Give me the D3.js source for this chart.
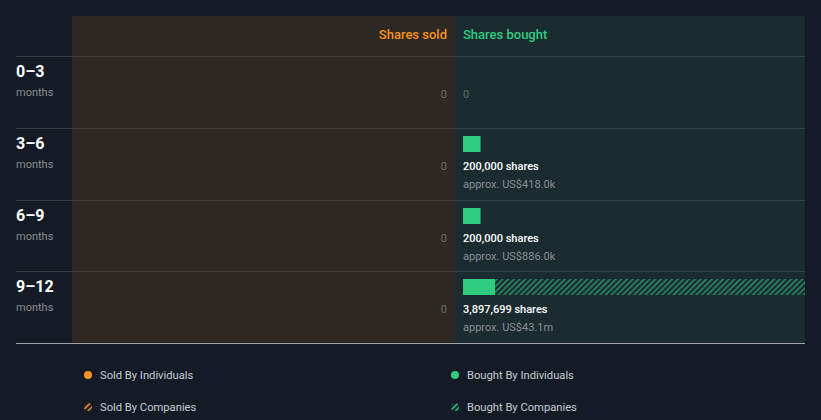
<!DOCTYPE html>
<html><head><meta charset="utf-8">
<script src="https://cdn.jsdelivr.net/npm/d3@7"></script>
<style>
html,body{margin:0;padding:0;background:#151b26;}
svg{display:block;font-family:Roboto, "Open Sans", sans-serif;}
</style></head>
<body>
<svg id="c" width="821" height="420"></svg>
<script>
const periods = ["0\u20133", "3\u20136", "6\u20139", "9\u201312"];
const periodUnit = ["months", "months", "months", "months"];
const soldByIndividuals = [0, 0, 0, 0];
const soldByCompanies = [0, 0, 0, 0];
const boughtByIndividuals = [0, 200000, 200000, 365000];
const boughtByCompanies = [0, 0, 0, 3532699];
const boughtValueUSD = [0, 418000, 886000, 43100000];
const legendLabels = ["Sold By Individuals", "Bought By Individuals", "Sold By Companies", "Bought By Companies"];

const svg = d3.select("#c");
const orange = "#f7931e", green = "#2ecc7f";
const bg = "#151b26", soldBg = "#2d2823", boughtBg = "#1a2c2f";

const panelTop = 16, headerBottom = 56, rowH = 71.75;
const soldX0 = 72, mid = 455, boughtX1 = 805, labelX = 16;

const defs = svg.append("defs");
function hatch(id, color, bgc) {
  const p = defs.append("pattern").attr("id", id).attr("patternUnits", "userSpaceOnUse")
    .attr("width", 4).attr("height", 4).attr("patternTransform", "rotate(45)");
  p.append("rect").attr("width", 4).attr("height", 4).attr("fill", bgc);
  p.append("rect").attr("x", 0).attr("width", 1.6).attr("height", 4).attr("fill", color);
}
hatch("hatchG", "#2a8a62", boughtBg);
hatch("hatchO", orange, bg);
hatch("hatchGL", green, bg);

const y = d3.scaleBand().domain(periods).range([headerBottom, headerBottom + rowH * periods.length]).padding(0);
const totals = periods.map((_, i) => boughtByIndividuals[i] + boughtByCompanies[i]);
const soldTotals = periods.map((_, i) => soldByIndividuals[i] + soldByCompanies[i]);
const maxV = d3.max(totals.concat(soldTotals));
const xB = d3.scaleLinear().domain([0, maxV]).range([mid + 8, boughtX1]);

const bottom = Math.round(y.range()[1]);
svg.append("rect").attr("x", soldX0).attr("y", panelTop).attr("width", mid - soldX0).attr("height", bottom - panelTop).attr("fill", soldBg);
svg.append("rect").attr("x", mid).attr("y", panelTop).attr("width", boughtX1 - mid).attr("height", bottom - panelTop).attr("fill", boughtBg);

svg.append("text").attr("x", mid - 8).attr("y", 39).attr("text-anchor", "end")
  .attr("fill", orange).attr("font-size", 13).attr("font-weight", 500).text("Shares sold");
svg.append("text").attr("x", mid + 8).attr("y", 39)
  .attr("fill", green).attr("font-size", 13).attr("font-weight", 500).text("Shares bought");

periods.forEach(p => {
  const yy = Math.round(y(p)) + 0.5;
  svg.append("line").attr("x1", labelX).attr("x2", soldX0).attr("y1", yy).attr("y2", yy).attr("stroke", "#3a3d44");
  svg.append("line").attr("x1", soldX0).attr("x2", mid).attr("y1", yy).attr("y2", yy).attr("stroke", "#46413c");
  svg.append("line").attr("x1", mid).attr("x2", boughtX1).attr("y1", yy).attr("y2", yy).attr("stroke", "#2e4743");
});
svg.append("line").attr("x1", labelX).attr("x2", boughtX1).attr("y1", bottom + 0.5).attr("y2", bottom + 0.5).attr("stroke", "#a0a4a8");

const fmt = d3.format(",");
function money(v) {
  if (v >= 1e6) return "approx. US$" + (v / 1e6).toFixed(1) + "m";
  return "approx. US$" + (v / 1e3).toFixed(1) + "k";
}

periods.forEach((p, i) => {
  const top = Math.round(y(p));
  svg.append("text").attr("x", labelX).attr("y", top + 21).attr("fill", "#ffffff")
    .attr("font-size", 16).attr("font-weight", 700).text(p);
  svg.append("text").attr("x", labelX).attr("y", top + 40).attr("fill", "#8b8d92")
    .attr("font-size", 11).text(periodUnit[i]);

  if (soldTotals[i] === 0) {
    svg.append("text").attr("x", mid - 8).attr("y", top + 42).attr("text-anchor", "end")
      .attr("fill", "#6b6b6b").attr("font-size", 11).text("0");
  }
  if (totals[i] === 0) {
    svg.append("text").attr("x", mid + 8).attr("y", top + 42)
      .attr("fill", "#5d6f6e").attr("font-size", 11).text("0");
  } else {
    const bt = top + 8, bh = 16;
    svg.append("rect").attr("x", xB(0)).attr("y", bt)
      .attr("width", xB(boughtByIndividuals[i]) - xB(0)).attr("height", bh).attr("fill", green);
    if (boughtByCompanies[i] > 0) {
      svg.append("rect").attr("x", xB(boughtByIndividuals[i])).attr("y", bt)
        .attr("width", xB(totals[i]) - xB(boughtByIndividuals[i])).attr("height", bh).attr("fill", "url(#hatchG)");
    }
    svg.append("text").attr("x", mid + 8).attr("y", top + 42).attr("fill", "#ffffff")
      .attr("font-size", 11).attr("font-weight", 500).text(fmt(totals[i]) + " shares");
    svg.append("text").attr("x", mid + 8).attr("y", top + 60).attr("fill", "#8a8e94")
      .attr("font-size", 11).text(money(boughtValueUSD[i]));
  }
});

const legX = [88, 455], legY = [375, 407];
legendLabels.forEach((lab, k) => {
  const col = k % 2, row = Math.floor(k / 2);
  const cx = legX[col], cy = legY[row];
  const c = col === 0 ? orange : green;
  if (row === 0) {
    svg.append("circle").attr("cx", cx).attr("cy", cy).attr("r", 4).attr("fill", c);
  } else {
    svg.append("circle").attr("cx", cx).attr("cy", cy).attr("r", 4)
      .attr("fill", col === 0 ? "url(#hatchO)" : "url(#hatchGL)");
  }
  svg.append("text").attr("x", cx + 12).attr("y", cy + 4).attr("fill", "#c8ccd0")
    .attr("font-size", 11.2).text(lab);
});
</script>
</body></html>
